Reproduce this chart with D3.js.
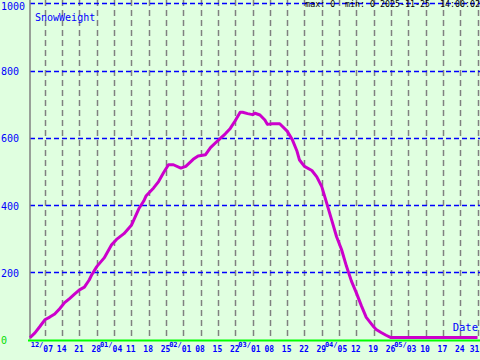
<!DOCTYPE html>
<html><head><meta charset="utf-8">
<script src="https://cdn.jsdelivr.net/npm/d3@7"></script>
<style>
body{margin:0;background:#e0ffe0}
svg{display:block}
text{font-family:"DejaVu Sans Mono",monospace}
</style>
</head><body><svg id="c" width="480" height="360"></svg>
<script>
// ---- data ----
const dates = ["2024-12-01","2024-12-03","2024-12-05","2024-12-07","2024-12-09","2024-12-11","2024-12-13","2024-12-15","2024-12-17","2024-12-19","2024-12-21","2024-12-23","2024-12-25","2024-12-26","2024-12-28","2024-12-31",
"2025-01-03","2025-01-05","2025-01-08","2025-01-11","2025-01-14","2025-01-16","2025-01-17","2025-01-20","2025-01-22","2025-01-24","2025-01-26","2025-01-28","2025-01-31",
"2025-02-02","2025-02-05","2025-02-07","2025-02-10","2025-02-12","2025-02-15","2025-02-18","2025-02-20","2025-02-22","2025-02-24","2025-02-25","2025-02-27",
"2025-03-01","2025-03-02","2025-03-04","2025-03-06","2025-03-07","2025-03-09","2025-03-12","2025-03-15","2025-03-17","2025-03-19","2025-03-20","2025-03-22","2025-03-25","2025-03-27","2025-03-29","2025-03-31",
"2025-04-02","2025-04-04","2025-04-06","2025-04-08","2025-04-10","2025-04-12","2025-04-14","2025-04-16","2025-04-19","2025-04-20","2025-04-22","2025-04-24","2025-04-26",
"2025-05-31"];
const values = [0,14,33,53,61,70,86,104,116,129,142,150,172,187,211,237,
276,292,309,334,383,406,422,445,464,490,514,514,504,
509,530,540,544,565,586,606,622,645,670,670,666,
663,667,662,647,634,636,636,614,590,554,528,509,497,478,449,400,
350,300,262,212,168,133,95,60,32,24,15,7,0,
0];
const yTicks = [0,200,400,600,800,1000];
const seriesName = "SnowWeight";
const xName = "Date";
const header = "max: 0  min: 0 2025-11-25  14:00:02";
const domainStart = "2024-12-01", domainEnd = "2025-06-01";

// ---- drawing ----
const svg = d3.select("#c");
const W = 480, H = 360, L = 30, R = 480, T = 3.3, B = 339.6;
const parse = d3.utcParse("%Y-%m-%d");
const data = dates.map((d,i)=>({date:parse(d), v:values[i]}));
const x = d3.scaleUtc().domain([parse(domainStart), parse(domainEnd)]).range([L, R]);
const y = d3.scaleLinear().domain([0,1000]).range([B, T]);

svg.append("rect").attr("width",W).attr("height",H).attr("fill","#e0ffe0");

const xTicks = d3.utcSaturday.range(parse(domainStart), parse(domainEnd));

// vertical dashed grid
svg.append("g").selectAll("line").data(xTicks).join("line")
  .attr("x1",d=>Math.round(x(d))+0.5).attr("x2",d=>Math.round(x(d))+0.5)
  .attr("y1",0).attr("y2",B)
  .attr("stroke","#808080").attr("stroke-width",1.5).attr("stroke-dasharray","6,4");

// horizontal dashed grid
svg.append("g").selectAll("line").data(yTicks.filter(v=>v>0)).join("line")
  .attr("x1",L).attr("x2",R)
  .attr("y1",d=>Math.round(y(d))+0.5).attr("y2",d=>Math.round(y(d))+0.5)
  .attr("stroke","#0000ff").attr("stroke-width",1.5).attr("stroke-dasharray","5,3");

// y axis line
svg.append("line").attr("x1",L).attr("x2",L).attr("y1",0).attr("y2",B)
  .attr("stroke","#808080").attr("stroke-width",1.5);

// y labels
svg.append("g").selectAll("text").data(yTicks).join("text")
  .attr("x",1).attr("y",d=>y(d)+ (d===1000?6.5:4.5))
  .attr("font-size",10)
  .attr("fill",d=>d===0?"#00dd00":"#0000ff")
  .text(d=>d);

// series line
svg.append("path").datum(data)
  .attr("fill","none").attr("stroke","#cc00cc").attr("stroke-width",3)
  .attr("stroke-linejoin","round")
  .attr("transform","translate(0,-2)")
  .attr("d", d3.line().x(d=>x(d.date)).y(d=>y(d.v)));

// x axis line (green)
svg.append("line").attr("x1",L-2).attr("x2",R).attr("y1",B+1).attr("y2",B+1)
  .attr("stroke","#00ff00").attr("stroke-width",2);

// x labels
const fmtDay = d3.utcFormat("%d"), fmtMon = d3.utcFormat("%m/");
const xl = svg.append("g").attr("fill","#0000ff").attr("font-weight","bold");
xTicks.forEach(d=>{
  const first = d.getUTCDate() <= 7;
  const px = x(d);
  if (first) {
    xl.append("text").attr("x",px-1.5).attr("y",352).attr("font-size",8).attr("text-anchor","start").text(fmtDay(d));
    xl.append("text").attr("x",px-1.5).attr("y",346.5).attr("font-size",7).attr("text-anchor","end").text(fmtMon(d));
  } else {
    xl.append("text").attr("x",Math.min(px-0.5, 474.5)).attr("y",352).attr("font-size",8).attr("text-anchor","middle").text(fmtDay(d));
  }
});

// titles
svg.append("text").attr("x",35).attr("y",21).attr("font-size",10).attr("fill","#0000ff").text(seriesName);
svg.append("text").attr("x",478).attr("y",331).attr("font-size",10.5).attr("text-anchor","end").attr("fill","#0000ff").text(xName);
svg.append("text").attr("x",480).attr("y",6.5).attr("font-size",8.3).attr("text-anchor","end")
  .attr("fill","#000").style("white-space","pre").text(header);
</script></body></html>
